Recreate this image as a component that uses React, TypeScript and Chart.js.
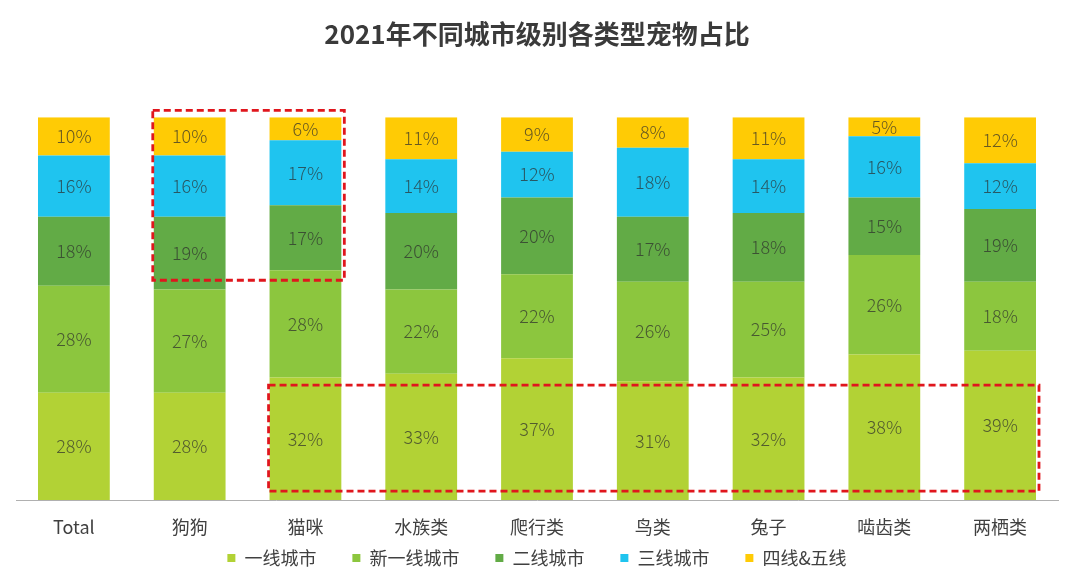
import React, { useEffect, useRef } from "react";
import { Chart, registerables } from "chart.js";

Chart.register(...registerables);

const categories = ["Total", "狗狗", "猫咪", "水族类", "爬行类", "鸟类", "兔子", "啮齿类", "两栖类"];
const seriesNames = ["一线城市", "新一线城市", "二线城市", "三线城市", "四线&五线"];
const tier1 = [28, 28, 32, 33, 37, 31, 32, 38, 39];
const newTier1 = [28, 27, 28, 22, 22, 26, 25, 26, 18];
const tier2 = [18, 19, 17, 20, 20, 17, 18, 15, 19];
const tier3 = [16, 16, 17, 14, 12, 18, 14, 16, 12];
const tier45 = [10, 10, 6, 11, 9, 8, 11, 5, 12];
const colors = ["#b2d235", "#8cc63e", "#62ab46", "#1fc4ef", "#ffcb05"];

// highlight boxes: category index range + value range
const boxes = [
  { from: 1, to: 2, low: 57.4, high: 101.8 },
  { from: 2, to: 8, low: 2.3, high: 30.0 },
];

const CJK = "'Noto Sans CJK SC', 'Microsoft YaHei', sans-serif";

const labelPlugin = {
  id: "segLabels",
  afterDatasetsDraw(chart: any) {
    const ctx = chart.ctx;
    ctx.save();
    ctx.font = `300 18px ${CJK}`;
    ctx.fillStyle = "rgba(45,45,45,0.72)";
    ctx.textAlign = "center";
    ctx.textBaseline = "middle";
    chart.data.datasets.forEach((ds: any, di: number) => {
      const meta = chart.getDatasetMeta(di);
      meta.data.forEach((bar: any, i: number) => {
        const v = ds.data[i];
        const yc = (bar.y + bar.base) / 2;
        ctx.fillText(v + "%", bar.x, yc);
      });
    });
    ctx.restore();
  },
};

const boxPlugin = {
  id: "boxes",
  afterDraw(chart: any) {
    const ctx = chart.ctx;
    const xs = chart.scales.x;
    const ys = chart.scales.y;
    const meta = chart.getDatasetMeta(0);
    const half = meta.data[0] ? meta.data[0].width / 2 : 36;
    ctx.save();
    ctx.strokeStyle = "#e0161d";
    ctx.lineWidth = 2.8;
    ctx.setLineDash([7, 4]);
    boxes.forEach((b) => {
      const x0 = xs.getPixelForValue(b.from) - half - 1;
      const x1 = xs.getPixelForValue(b.to) + half + 3;
      const y0 = ys.getPixelForValue(b.high);
      const y1 = ys.getPixelForValue(b.low);
      ctx.strokeRect(x0, y0, x1 - x0, y1 - y0);
    });
    ctx.restore();
  },
};

export default function App() {
  const ref = useRef<HTMLCanvasElement>(null);
  useEffect(() => {
    if (!ref.current) return;
    const all = [tier1, newTier1, tier2, tier3, tier45];
    const chart = new Chart(ref.current, {
      type: "bar",
      data: {
        labels: categories,
        datasets: all.map((d, i) => ({
          label: seriesNames[i],
          data: d,
          backgroundColor: colors[i],
          borderWidth: 0,
          barPercentage: 0.62,
          categoryPercentage: 1,
        })),
      },
      options: {
        animation: false,
        responsive: true,
        maintainAspectRatio: false,
        layout: { padding: { left: 16, right: 8, top: 0, bottom: 5 } },
        plugins: {
          title: {
            display: true,
            text: "2021年不同城市级别各类型宠物占比",
            color: "#3a3a3a",
            font: { size: 26, weight: "bold", family: CJK },
            padding: { top: 19, bottom: 67 },
          },
          legend: {
            position: "bottom",
            labels: {
              boxWidth: 8,
              boxHeight: 8,
              color: "#404040",
              font: { size: 18, family: CJK },
              padding: 36,
            },
          },
          tooltip: { enabled: false },
        },
        scales: {
          x: {
            stacked: true,
            grid: { display: false },
            border: { display: true, color: "#b0b0b0" },
            ticks: { color: "#404040", font: { size: 18, family: CJK }, padding: 8 },
            afterFit: (scale: any) => {
              scale.height = 13;
              // let the tick labels extend below the shortened axis box
              scale._computeLabelArea = () => undefined;
            },
          },
          y: {
            stacked: true,
            display: false,
            min: 0,
            max: 100,
          },
        },
      },
      plugins: [labelPlugin, boxPlugin],
    });
    return () => chart.destroy();
  }, []);
  return (
    <div style={{ position: "fixed", left: 0, top: 0, width: 1066, height: 582, background: "#fff" }}>
      <canvas ref={ref} />
    </div>
  );
}
